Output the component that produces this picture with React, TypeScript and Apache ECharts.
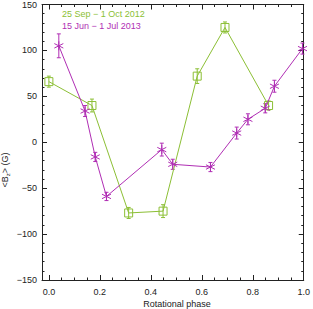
import React, { useEffect, useRef } from "react";
import * as echarts from "echarts";

const greenLabel = "25 Sep \u2212 1 Oct 2012";
const purpleLabel = "15 Jun \u2212 1 Jul 2013";

const greenPhase = [0.0, 0.169, 0.313, 0.448, 0.582, 0.691, 0.862];
const greenB = [66, 40, -77, -75, 72, 125, 40];
const greenErr = [6, 7, 6, 7, 8, 6, 5];

const purplePhase = [0.039, 0.142, 0.182, 0.226, 0.443, 0.486, 0.634, 0.737, 0.781, 0.849, 0.885, 0.995];
const purpleB = [105, 34, -16, -59, -8, -24, -27, 10, 25, 37, 61, 102];
const purpleErr = [13, 6, 5, 4.5, 7, 5.5, 5, 6.5, 6, 5, 6.5, 6];

const xMajor = [0, 0.2, 0.4, 0.6, 0.8, 1.0];
const xMinor = [0.05, 0.1, 0.15, 0.25, 0.3, 0.35, 0.45, 0.5, 0.55, 0.65, 0.7, 0.75, 0.85, 0.9, 0.95];
const yMinor = [-140, -130, -120, -110, -90, -80, -70, -60, -40, -30, -20, -10, 10, 20, 30, 40, 60, 70, 80, 90, 110, 120, 130, 140];

const GREEN = "#8CBF35";
const PURPLE = "#B02EB4";
const AXIS = "#222";
const FONT = "Liberation Sans, Arial, sans-serif";

const X_MIN = -0.027;
const X_MAX = 1.0;
const Y_MIN = -150;
const Y_MAX = 150;

const ASTERISK = "path://M5,0L5,10M0.7,2.5L9.3,7.5M0.7,7.5L9.3,2.5";

function errorSeries(name: string, xs: number[], ys: number[], es: number[], color: string) {
  return {
    type: "custom",
    name,
    xAxisIndex: 0,
    yAxisIndex: 0,
    silent: true,
    data: xs.map((x, i) => [x, ys[i] - es[i], ys[i] + es[i]]),
    renderItem: (params: any, api: any) => {
      const x = api.value(0);
      const lo = api.coord([x, api.value(1)]);
      const hi = api.coord([x, api.value(2)]);
      const c = 2;
      const st = { stroke: color, lineWidth: 1, fill: null };
      return {
        type: "group",
        children: [
          { type: "line", shape: { x1: lo[0], y1: lo[1], x2: hi[0], y2: hi[1] }, style: st },
          { type: "line", shape: { x1: lo[0] - c, y1: lo[1], x2: lo[0] + c, y2: lo[1] }, style: st },
          { type: "line", shape: { x1: hi[0] - c, y1: hi[1], x2: hi[0] + c, y2: hi[1] }, style: st },
        ],
      };
    },
  };
}

export default function App() {
  const ref = useRef<HTMLDivElement>(null);
  useEffect(() => {
    document.body.style.margin = "0";
    if (!ref.current) return;
    const chart = echarts.init(ref.current, null, { renderer: "svg" });
    const axLine = { show: true, onZero: false, lineStyle: { color: AXIS, width: 1 } };
    const noLine = { show: false, onZero: false };
    const majTick = (vals: number[]) => ({ show: true, inside: true, length: 5, customValues: vals, lineStyle: { color: AXIS, width: 1 } });
    const minTick = (vals: number[]) => ({ show: true, inside: true, length: 2.5, customValues: vals, lineStyle: { color: AXIS, width: 1 } });
    const xBase = { type: "value", min: X_MIN, max: X_MAX, splitLine: { show: false } };
    const yBase = { type: "value", min: Y_MIN, max: Y_MAX, interval: 50, splitLine: { show: false } };
    const fmtY = (v: number) => String(v).replace("-", "\u2212");

    const option: any = {
      animation: false,
      grid: { left: 42, right: 7, top: 1, bottom: 29, containLabel: false },
      xAxis: [
        {
          ...xBase,
          position: "bottom",
          axisLine: axLine,
          axisTick: majTick(xMajor),
          axisLabel: { show: true, customValues: xMajor, margin: 7, color: AXIS, fontSize: 9, fontFamily: FONT, formatter: (v: number) => v.toFixed(1) },
        },
        { ...xBase, position: "bottom", axisLine: noLine, axisTick: minTick(xMinor), axisLabel: { show: false } },
        { ...xBase, position: "top", axisLine: axLine, axisTick: majTick(xMajor), axisLabel: { show: false } },
        { ...xBase, position: "top", axisLine: noLine, axisTick: minTick(xMinor), axisLabel: { show: false } },
      ],
      yAxis: [
        {
          ...yBase,
          position: "left",
          axisLine: axLine,
          axisTick: { show: true, inside: true, length: 5, lineStyle: { color: AXIS, width: 1 } },
          axisLabel: { show: true, margin: 5, color: AXIS, fontSize: 9, fontFamily: FONT, formatter: fmtY },
        },
        { ...yBase, position: "left", axisLine: noLine, axisTick: minTick(yMinor), axisLabel: { show: false } },
        { ...yBase, position: "right", axisLine: axLine, axisTick: { show: true, inside: true, length: 5, lineStyle: { color: AXIS, width: 1 } }, axisLabel: { show: false } },
        { ...yBase, position: "right", axisLine: noLine, axisTick: minTick(yMinor), axisLabel: { show: false } },
      ],
      series: [
        errorSeries("gerr", greenPhase, greenB, greenErr, GREEN),
        errorSeries("perr", purplePhase, purpleB, purpleErr, PURPLE),
        {
          type: "line",
          name: greenLabel,
          xAxisIndex: 0,
          yAxisIndex: 0,
          data: greenPhase.map((x, i) => [x, greenB[i]]),
          lineStyle: { color: GREEN, width: 1 },
          symbol: "rect",
          symbolSize: 8,
          itemStyle: { color: "rgba(0,0,0,0)", borderColor: GREEN, borderWidth: 1 },
          z: 3,
        },
        {
          type: "line",
          name: purpleLabel,
          xAxisIndex: 0,
          yAxisIndex: 0,
          data: purplePhase.map((x, i) => [x, purpleB[i]]),
          lineStyle: { color: PURPLE, width: 1 },
          symbol: ASTERISK,
          symbolSize: 9,
          itemStyle: { color: PURPLE, borderColor: PURPLE, borderWidth: 1 },
          z: 4,
        },
      ],
      graphic: [
        { type: "text", left: 62, top: 9, style: { text: greenLabel, fill: GREEN, fontSize: 9, fontFamily: FONT } },
        { type: "text", left: 62, top: 21, style: { text: purpleLabel, fill: PURPLE, fontSize: 9, fontFamily: FONT } },
        {
          type: "text",
          x: 177,
          y: 304,
          style: { text: "Rotational phase", fill: AXIS, fontSize: 9, fontFamily: FONT, align: "center", verticalAlign: "middle" },
        },
        {
          type: "text",
          x: 5,
          y: 170,
          rotation: Math.PI / 2,
          style: {
            text: "<B{s|z}> (G)",
            fill: AXIS,
            fontSize: 9,
            fontFamily: FONT,
            align: "center",
            verticalAlign: "middle",
            rich: { s: { fontSize: 6, fontFamily: FONT, fill: AXIS, padding: [5, 0, 0, 0] } },
          },
        },
      ],
    };
    chart.setOption(option);
    return () => chart.dispose();
  }, []);
  return <div ref={ref} style={{ width: 313, height: 309 }} />;
}
